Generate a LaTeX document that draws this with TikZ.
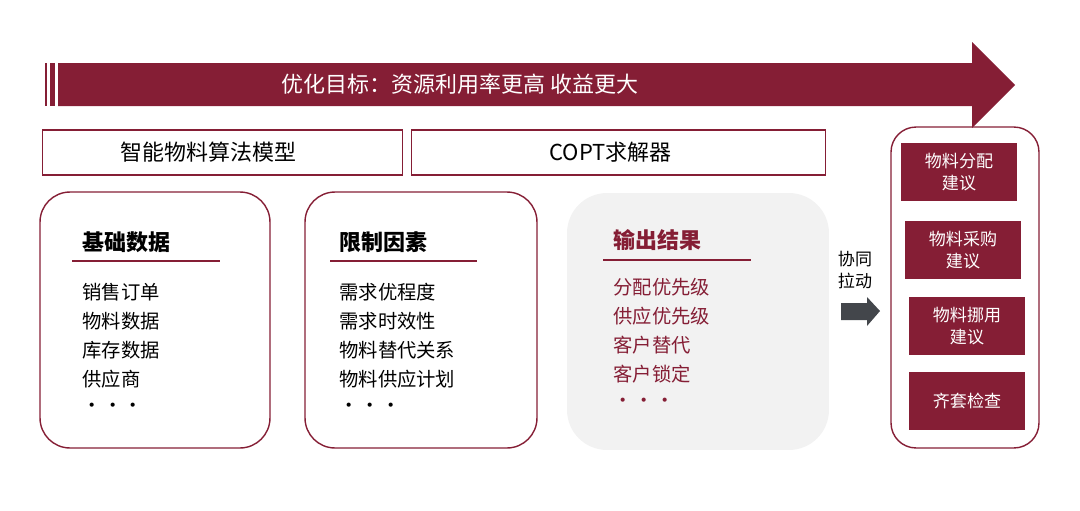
\documentclass[tikz,border=0pt]{standalone}
\usepackage{fontspec}
\setmainfont{Noto Sans CJK SC}
\usetikzlibrary{positioning}
\definecolor{wine}{HTML}{851E35}
\definecolor{panelgray}{HTML}{F2F2F2}
\definecolor{pushgray}{HTML}{43464B}

\begin{document}
\begin{tikzpicture}[x=0.02cm,y=-0.02cm,
	every node/.style={inner sep=0pt},
	head/.style={draw=wine, line width=0.6pt, minimum height=0.9cm, font=\fontsize{12.5}{14}\selectfont},
	card/.style={draw=wine, line width=0.8pt, rounded corners=0.6cm, minimum width=4.6cm, minimum height=5.12cm},
	title/.style={anchor=west, font=\fontsize{12.5}{14}\selectfont\bfseries},
	item/.style={anchor=west, font=\fontsize{11}{13}\selectfont},
	tip/.style={fill=wine, text=white, minimum width=2.32cm, minimum height=1.16cm, align=center, font=\fontsize{9.7}{13}\selectfont}]
	\useasboundingbox (0,0) rectangle (1080,511);
	% goal arrow
	\fill [wine] (45,63) rectangle (47,106);
	\fill [wine] (50,63) rectangle (55,106);
	\fill [wine] (58,63) -- (972,63) -- (972,42) -- (1015,85) -- (972,128) -- (972,106) -- (58,106) -- cycle;
	\node [text=white, font=\fontsize{12.5}{14}\selectfont] (goal) at (460,84) {优化目标：资源利用率更高 收益更大};
	% header boxes
	\node [head, minimum width=7.22cm] (algo) at (222.5,152.5) {\hspace*{-0.56cm}智能物料算法模型};
	\node [head, minimum width=8.3cm] (copt) at (618.5,152.5) {\hspace*{-0.32cm}COPT求解器};
	% input data
	\node [card] (base) at (155,320) {};
	\node [title] (base-t) at (82,242) {基础数据};
	\draw [wine, line width=0.8pt] (72,261) -- (220,261);
	\foreach \t [count=\i] in {销售订单,物料数据,库存数据,供应商,·\hspace{0.03cm}·\hspace{0.03cm}·}
		\node [item] (base-\i) at (82,263+29*\i) {\t};
	% constraints
	\node [card, minimum width=4.64cm] (limit) at (421,320) {};
	\node [title] (limit-t) at (339,242) {限制因素};
	\draw [wine, line width=0.8pt] (330,261) -- (477,261);
	\foreach \t [count=\i] in {需求优程度,需求时效性,物料替代关系,物料供应计划,·\hspace{0.03cm}·\hspace{0.03cm}·}
		\node [item] (limit-\i) at (339,263+29*\i) {\t};
	% output
	\node [fill=panelgray, rounded corners=0.8cm, minimum width=5.24cm, minimum height=5.14cm] (out) at (698,321.5) {};
	\node [title, text=wine] (out-t) at (613,240) {输出结果};
	\draw [wine, line width=0.8pt] (603,260) -- (751,260);
	\foreach \t [count=\i] in {分配优先级,供应优先级,客户替代,客户锁定,·\hspace{0.03cm}·\hspace{0.03cm}·}
		\node [item, text=wine] (out-\i) at (613,258+29*\i) {\t};
	% pull
	\node [align=left, font=\fontsize{9.7}{13}\selectfont] (pull) at (855,270) {协同\\拉动};
	\fill [pushgray] (841,303) -- (867,303) -- (867,297) -- (880,311) -- (867,326) -- (867,320) -- (841,320) -- cycle;
	% suggestions
	\node [draw=wine, line width=0.8pt, rounded corners=0.5cm, minimum width=2.96cm, minimum height=6.42cm] (panel) at (965,287.5) {};
	\node [tip] (alloc) at (959,172) {物料分配\\建议};
	\node [tip] (buy) at (963,250) {物料采购\\建议};
	\node [tip] (move) at (967,326) {物料挪用\\建议};
	\node [tip] (kit) at (967,401) {齐套检查};
\end{tikzpicture}
\end{document}
